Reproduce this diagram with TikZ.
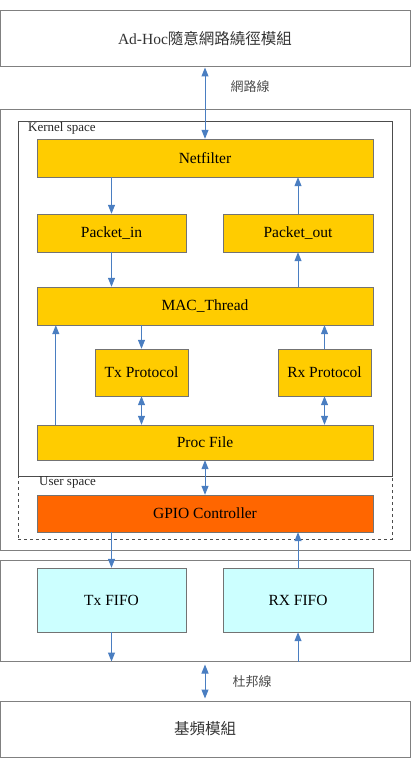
\documentclass[tikz,border=0pt]{standalone}
\usepackage{fontspec}
\setmainfont{Liberation Serif}
\newfontfamily\cjk{Noto Sans CJK TC}
\usetikzlibrary{arrows.meta}
\definecolor{gold}{RGB}{255,204,0}
\definecolor{fire}{RGB}{255,102,0}
\definecolor{ice}{RGB}{204,255,255}
\definecolor{wire}{RGB}{74,126,193}
\tikzset{yb/.style = {draw=black!55, fill=gold, inner sep=0pt, font=\fontsize{15.5}{18}\selectfont},
           ob/.style = {draw=black!55, fill=fire, inner sep=0pt, font=\fontsize{15.5}{18}\selectfont},
           cb/.style = {draw=black!55, fill=ice, inner sep=0pt, font=\fontsize{15.5}{18}\selectfont},
           wb/.style = {draw=black!50, line width=1pt, inner sep=0pt, text=black!80, font=\fontsize{15.5}{18}\selectfont},
           sp/.style = {draw=black!70, inner sep=0pt},
           lb/.style = {inner sep=0pt, anchor=west, text=black!85, font=\fontsize{13}{15}\selectfont},
           cl/.style = {inner sep=0pt, text=black!70, font=\cjk\fontsize{13}{15}\selectfont},
           ar/.style = {wire, line width=1pt}}

\begin{document}
\begin{tikzpicture}[x=1pt, y=-1pt, >={Triangle[width=7pt,length=9pt]}]
    \useasboundingbox (0,0) rectangle (415,759);
    % frames
    \node[wb, minimum width=410, minimum height=56] (adhoc) at (205,39) {Ad-Hoc{\cjk 隨意網路繞徑模組}};
    \node[wb, minimum width=410, minimum height=440] (sys) at (205,330) {};
    \node[sp, minimum width=374, minimum height=355] (ks) at (205,298.5) {};
    \node[sp, dashed, minimum width=374, minimum height=63] (us) at (205,507.5) {};
    \node[wb, minimum width=410, minimum height=101] (hw) at (205,610.5) {};
    \node[wb, minimum width=410, minimum height=56] (bb) at (205,729) {\cjk 基頻模組};
    \node[lb] (kl) at (28,128) {Kernel space};
    \node[lb] (ul) at (39,483) {User space};
    % blocks
    \node[yb, minimum width=336, minimum height=38] (nf) at (205,158) {Netfilter};
    \node[yb, minimum width=149, minimum height=38] (pin) at (111.5,233) {Packet\_in};
    \node[yb, minimum width=150, minimum height=38] (pout) at (298,233) {Packet\_out};
    \node[yb, minimum width=336, minimum height=38] (mac) at (205,306) {MAC\_Thread};
    \node[yb, minimum width=93, minimum height=47] (tx) at (141.5,372.5) {Tx Protocol};
    \node[yb, minimum width=93, minimum height=47] (rx) at (324.5,372.5) {Rx Protocol};
    \node[yb, minimum width=336, minimum height=35] (proc) at (205,442.5) {Proc File};
    \node[ob, minimum width=336, minimum height=37] (gpio) at (205,513.5) {GPIO Controller};
    \node[cb, minimum width=149, minimum height=64] (txf) at (111.5,600) {Tx FIFO};
    \node[cb, minimum width=150, minimum height=64] (rxf) at (298,600) {RX FIFO};
    \node[cl] (l1) at (250,87) {網路線};
    \node[cl] (l2) at (252,682) {杜邦線};
    % links
    \draw[ar, <->] (adhoc.south) -- (nf.north);
    \draw[ar, ->] (nf.south -| pin.north) -- (pin.north);
    \draw[ar, ->] (pin.south) -- (pin.south |- mac.north);
    \draw[ar, ->] (pout.south |- mac.north) -- (pout.south);
    \draw[ar, ->] (pout.north) -- (pout.north |- nf.south);
    \draw[ar, ->] ([xshift=19pt]proc.north west) -- ([xshift=19pt]mac.south west);
    \draw[ar, ->] (mac.south -| tx.north) -- (tx.north);
    \draw[ar, <->] (tx.south) -- (tx.south |- proc.north);
    \draw[ar, ->] (rx.north) -- (rx.north |- mac.south);
    \draw[ar, <->] (rx.south) -- (rx.south |- proc.north);
    \draw[ar, <->] (proc.south) -- (gpio.north);
    \draw[ar, ->] (gpio.south -| txf.north) -- (txf.north);
    \draw[ar, ->] (rxf.north) -- (rxf.north |- gpio.south);
    \draw[ar, ->] (txf.south) -- (txf.south |- hw.south);
    \draw[ar, ->] (rxf.south |- hw.south) -- (rxf.south);
    \draw[ar, <->, shorten <=3pt, shorten >=2pt] (hw.south) -- (bb.north);
\end{tikzpicture}
\end{document}
